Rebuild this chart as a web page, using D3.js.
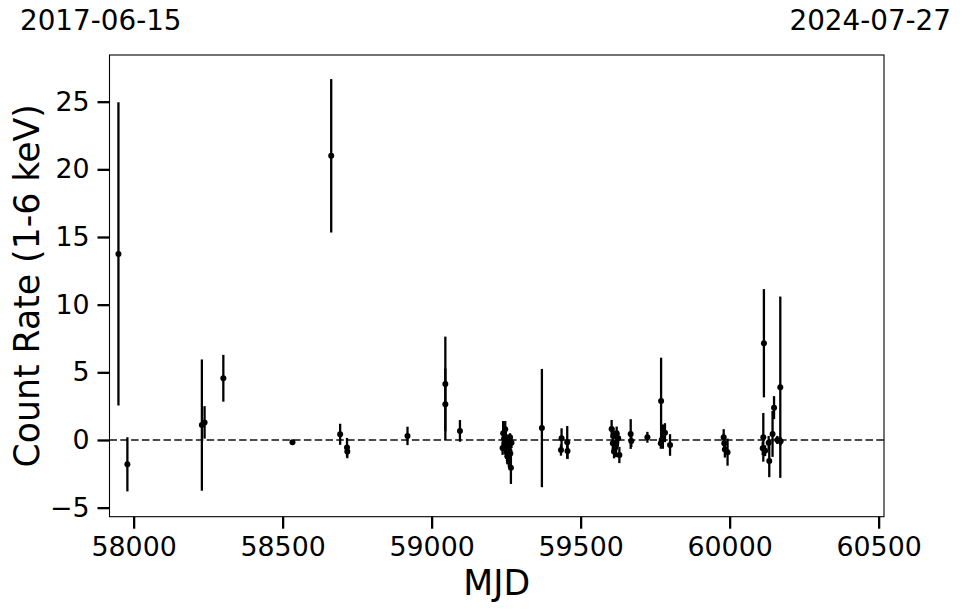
<!DOCTYPE html>
<html><head><meta charset="utf-8">
<script src="https://cdn.jsdelivr.net/npm/d3@7"></script>
<style>
html,body{margin:0;padding:0;background:#fff;}
svg{display:block;font-family:"DejaVu Sans",sans-serif;}
</style></head>
<body>
<svg id="chart" width="962" height="613"></svg>
<script>
// Observation MJD, count rate (1-6 keV), 1-sigma error
const mjd = [57949,57979,58229,58238,58301,58533,58663,58693,58716,58717,58919,59046,59046,59095,
  59238,59240,59243,59245,59247,59249,59251,59252,59254,59256,59258,59259,59261,59263,59264,59266,59268,
  59370,59434,59436,59455,59456,
  59604,59608,59610,59612,59615,59619,59621,59626,59630,
  59668,59670,59724,59770,59769,59772,59776,59783,59800,
  59980,59982,59984,59993,
  60111,60113,60115,60119,60131,60133,60144,60149,60160,60170,60171];
const rate = [13.75,-1.8,1.1,1.3,4.56,-0.17,21.0,0.42,-0.55,-0.85,0.3,4.14,2.64,0.67,
  -0.6,0.5,0.1,-0.3,0.8,0.2,-0.9,0.0,-1.2,-0.4,0.1,-1.5,-0.8,0.2,-1.0,-2.05,-0.2,
  0.88,-0.74,0.12,-0.17,-0.81,
  0.81,-0.25,0.3,-0.86,-0.62,-0.37,0.49,0.12,-1.11,
  0.44,-0.07,0.2,2.88,-0.25,0.0,0.25,0.54,-0.37,
  0.2,-0.25,-0.7,-0.9,
  -0.62,0.2,7.15,-0.79,-0.2,-1.55,0.45,2.39,0.0,3.9,-0.1];
const err = [11.2,2.0,4.85,1.2,1.73,0.12,5.67,0.78,0.7,0.5,0.68,3.5,2.64,0.8,
  0.5,0.9,0.5,0.4,0.6,0.4,0.5,0.3,0.6,0.3,0.3,0.5,0.4,0.3,0.5,1.2,0.4,
  4.37,0.42,0.74,1.2,0.6,
  0.67,0.5,0.6,0.5,0.6,0.9,0.5,0.4,0.6,
  1.1,0.45,0.4,3.2,0.4,0.5,0.9,0.7,0.8,
  0.6,0.5,0.6,1.0,
  0.5,1.8,4.0,0.4,0.5,1.2,1.7,0.85,0.3,6.7,0.3];
const xTicks = [58000,58500,59000,59500,60000,60500];
const yTicks = [-5,0,5,10,15,20,25];
const xLimits = [57919,60518];
const yLimits = [-5.67,28.45];
const startDate = "2017-06-15", endDate = "2024-07-27";
const xLabel = "MJD", yLabel = "Count Rate (1-6 keV)";

const data = mjd.map((m,i)=>({m, r:rate[i], e:err[i]}));
const L=109.5, R=884, T=55, B=516.7;
const svg = d3.select("#chart");
const x = d3.scaleLinear().domain(xLimits).range([L,R]);
const y = d3.scaleLinear().domain(yLimits).range([B,T]);

// zero line
svg.append("line").attr("x1",L).attr("x2",R).attr("y1",y(0)).attr("y2",y(0))
  .attr("stroke","#111").attr("stroke-width",1.7).attr("stroke-dasharray","7.5,3.3");

// error bars
svg.append("g").selectAll("line").data(data).join("line")
  .attr("x1",d=>x(d.m)).attr("x2",d=>x(d.m))
  .attr("y1",d=>y(d.r+d.e)).attr("y2",d=>y(d.r-d.e))
  .attr("stroke","#000").attr("stroke-width",2.3);
// points
svg.append("g").selectAll("circle").data(data).join("circle")
  .attr("cx",d=>x(d.m)).attr("cy",d=>y(d.r)).attr("r",3).attr("fill","#000");

// frame
svg.append("rect").attr("x",L).attr("y",T).attr("width",R-L).attr("height",B-T)
  .attr("fill","none").attr("stroke","#000").attr("stroke-width",1.1);

const xa = svg.append("g").attr("transform",`translate(0,${B})`)
  .call(d3.axisBottom(x).tickValues(xTicks).tickFormat(d3.format("d")).tickSize(12).tickPadding(8));
const ya = svg.append("g").attr("transform",`translate(${L},0)`)
  .call(d3.axisLeft(y).tickValues(yTicks).tickFormat(d3.format("d")).tickSize(12).tickPadding(8));
[xa,ya].forEach(a=>{
  a.select(".domain").remove();
  a.selectAll(".tick line").attr("stroke","#000").attr("stroke-width",2.3);
  a.selectAll(".tick text").attr("font-size",26.8).attr("fill","#000").attr("font-family","DejaVu Sans");
});

svg.append("text").attr("x",(L+R)/2).attr("y",595).attr("text-anchor","middle")
  .attr("font-size",34.7).text(xLabel);
svg.append("text").attr("transform",`translate(38.5,${(T+B)/2}) rotate(-90)`).attr("text-anchor","middle")
  .attr("font-size",34.7).text(yLabel);
svg.append("text").attr("x",20).attr("y",30).attr("font-size",27.8).text(startDate);
svg.append("text").attr("x",951).attr("y",30).attr("text-anchor","end").attr("font-size",27.8).text(endDate);
</script>
</body></html>
